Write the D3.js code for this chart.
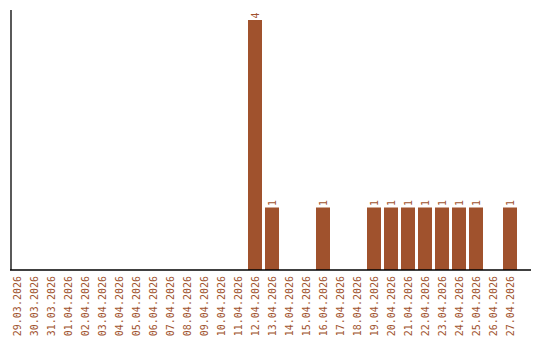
<!DOCTYPE html>
<html>
<head>
<meta charset="utf-8">
<script src="https://cdn.jsdelivr.net/npm/d3@7"></script>
<style>
  body { margin: 0; background: #fff; }
  svg { display: block; }
</style>
</head>
<body>
<script>
// dates and counts
var dates = ["29.03.2026", "30.03.2026", "31.03.2026", "01.04.2026", "02.04.2026", "03.04.2026",
  "04.04.2026", "05.04.2026", "06.04.2026", "07.04.2026", "08.04.2026", "09.04.2026",
  "10.04.2026", "11.04.2026", "12.04.2026", "13.04.2026", "14.04.2026", "15.04.2026",
  "16.04.2026", "17.04.2026", "18.04.2026", "19.04.2026", "20.04.2026", "21.04.2026",
  "22.04.2026", "23.04.2026", "24.04.2026", "25.04.2026", "26.04.2026", "27.04.2026"];
var counts = [0, 0, 0, 0, 0, 0, 0, 0, 0, 0, 0, 0, 0, 0, 4, 1, 0, 0, 1, 0, 0, 1, 1, 1, 1, 1, 1, 1, 0, 1];

var width = 540, height = 340;
var color = "#a0522d";
var fontFam = "'DejaVu Sans Mono', monospace";

var svg = d3.select("body").append("svg")
  .attr("width", width)
  .attr("height", height);

// x scale: 30 bands, step 17, bar width 14, starting at 10
var x = d3.scaleBand()
  .domain(dates)
  .range([10, 10 + 17 * dates.length - 3])
  .paddingInner(3 / 17)
  .paddingOuter(0)
  .align(0);

var y = d3.scaleLinear()
  .domain([0, 4.16])
  .range([270, 10]);

var data = dates.map(function (d, i) { return { date: d, value: counts[i] }; });

// bars
svg.selectAll("rect.bar")
  .data(data.filter(function (d) { return d.value > 0; }))
  .enter().append("rect")
  .attr("class", "bar")
  .attr("x", function (d) { return x(d.date); })
  .attr("y", function (d) { return y(d.value); })
  .attr("width", x.bandwidth())
  .attr("height", function (d) { return y(0) - y(d.value); })
  .attr("fill", color);

// value labels above bars
svg.selectAll("text.val")
  .data(data.filter(function (d) { return d.value > 0; }))
  .enter().append("text")
  .attr("class", "val")
  .attr("transform", function (d) {
    return "translate(" + (x(d.date) + x.bandwidth() / 2 + 3.5) + "," + (y(d.value) - 1.5) + ") rotate(-90)";
  })
  .attr("font-family", fontFam)
  .attr("font-size", "10px")
  .attr("fill", color)
  .text(function (d) { return d.value; });

// date labels
svg.selectAll("text.date")
  .data(dates)
  .enter().append("text")
  .attr("class", "date")
  .attr("transform", function (d) {
    return "translate(" + (x(d) + x.bandwidth() / 2 + 3.5) + ",276) rotate(-90)";
  })
  .attr("text-anchor", "end")
  .attr("font-family", fontFam)
  .attr("font-size", "10px")
  .attr("fill", color)
  .text(function (d) { return d; });

// axes lines
svg.append("line")
  .attr("x1", 11).attr("x2", 11)
  .attr("y1", y.range()[1]).attr("y2", y(0))
  .attr("stroke", "#000").attr("stroke-width", 1.3);
svg.append("line")
  .attr("x1", 10).attr("x2", 531)
  .attr("y1", y(0)).attr("y2", y(0))
  .attr("stroke", "#000").attr("stroke-width", 1.3);
</script>
</body>
</html>
